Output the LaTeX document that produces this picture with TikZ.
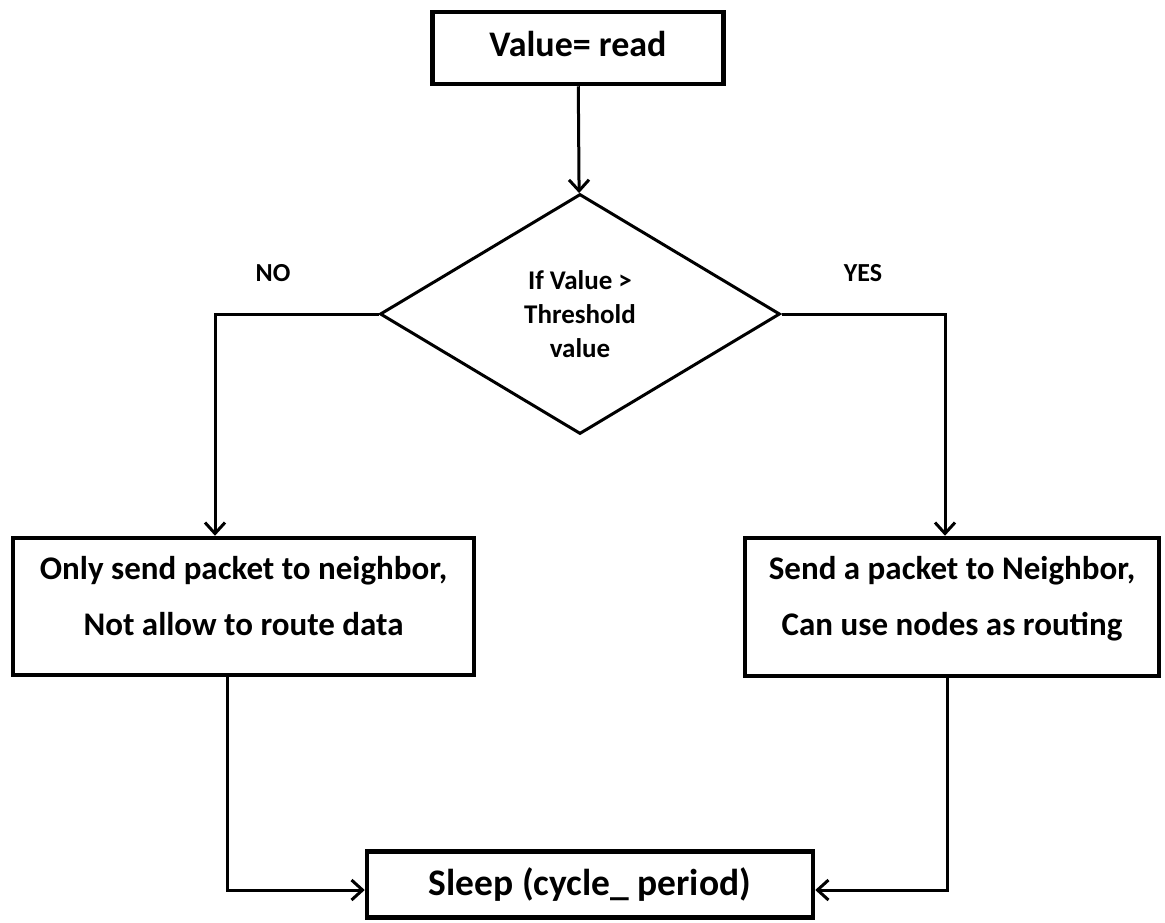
\documentclass[tikz,border=0pt]{standalone}
\usepackage{fontspec}
\setmainfont{Carlito}
\usetikzlibrary{shapes.geometric,arrows.meta}

\begin{document}
\begin{tikzpicture}[x=1pt,y=-1pt,->,>={Straight Barb[length=11pt,width=20pt]},line width=3pt,
    block/.style={rectangle,draw,line width=4.5pt,inner sep=0pt,align=center,
      font=\bfseries\fontsize{33}{56}\selectfont},
    decision/.style={diamond,draw,line width=3pt,inner sep=0pt,align=center,
      font=\bfseries\fontsize{27}{34}\selectfont},
    answer/.style={font=\bfseries\fontsize{26}{30}\selectfont}]
  \useasboundingbox (0,0) rectangle (1165,922);
  \node[block,minimum width=291pt,minimum height=72pt,text depth=8pt,
    font=\bfseries\fontsize{36}{40}\selectfont] (read) at (578,48) {Value= read};
  \node[decision,minimum width=400pt,minimum height=240pt] (test) at (580,314)
    {If Value >\\Threshold\\value};
  \node[block,minimum width=461pt,minimum height=137pt,text depth=22pt] (nobox) at (243.5,606.5)
    {Only send packet to neighbor,\\Not allow to route data};
  \node[block,minimum width=414pt,minimum height=138pt,text depth=22pt] (yesbox) at (952,607)
    {Send a packet to Neighbor,\\Can use nodes as routing};
  \node[block,minimum width=446pt,minimum height=66pt,
    font=\bfseries\fontsize{37.5}{40}\selectfont] (sleep) at (590,884.5) {Sleep (cycle\_ period)};
  \node[answer] (nolabel) at (273,273) {NO};
  \node[answer] (yeslabel) at (863,273) {YES};

  \coordinate (nobend) at (215,314);
  \coordinate (yesbend) at (945,314);
  \coordinate (nojoin) at (227,890);
  \coordinate (yesjoin) at (947,890);

  \draw (read) -- (test);
  \draw (test.west) -- (nobend) -- (nobend |- nobox.north);
  \draw (test.east) -- (yesbend) -- (yesbend |- yesbox.north);
  \draw (nojoin |- nobox.south) -- (nojoin) -- (sleep.west |- nojoin);
  \draw (yesjoin |- yesbox.south) -- (yesjoin) -- (sleep.east |- yesjoin);
\end{tikzpicture}
\end{document}
